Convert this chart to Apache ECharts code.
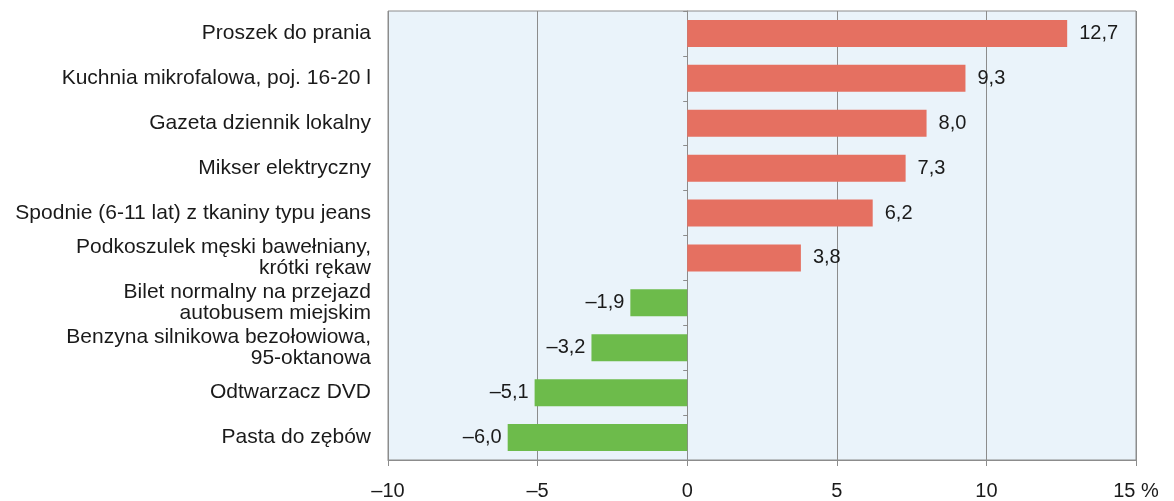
<!DOCTYPE html>
<html>
<head>
<meta charset="utf-8">
<script src="https://cdn.jsdelivr.net/npm/echarts@6/dist/echarts.min.js"></script>
<style>
  html, body { margin: 0; padding: 0; background: #fff; }
  #chart { width: 1174px; height: 501px; }
</style>
</head>
<body>
<div id="chart"></div>
<script>
// kategorie (od góry)
const categories = [
  'Proszek do prania',
  'Kuchnia mikrofalowa, poj. 16-20 l',
  'Gazeta dziennik lokalny',
  'Mikser elektryczny',
  'Spodnie (6-11 lat) z tkaniny typu jeans',
  'Podkoszulek męski bawełniany,\nkrótki rękaw',
  'Bilet normalny na przejazd\nautobusem miejskim',
  'Benzyna silnikowa bezołowiowa,\n95-oktanowa',
  'Odtwarzacz DVD',
  'Pasta do zębów'
];
// zmiana cen w %
const values = [12.7, 9.3, 8.0, 7.3, 6.2, 3.8, -1.9, -3.2, -5.1, -6.0];
const xTicks = [-10, -5, 0, 5, 10, 15];

const RED = '#e57061';
const GREEN = '#6dbb4b';
const GRAY = '#8c8c8c';
const FONT = 'Liberation Sans';

const fmt = v => (v < 0 ? '\u2013' : '') + Math.abs(v).toFixed(1).replace('.', ',');

const barData = values.map(v => ({
  value: v,
  itemStyle: { color: v >= 0 ? RED : GREEN },
  label: { position: v >= 0 ? 'right' : 'left', distance: v >= 0 ? 12 : 6 }
}));

const chart = echarts.init(document.getElementById('chart'));
chart.setOption({
  animation: false,
  textStyle: { fontFamily: FONT },
  grid: {
    left: 388, right: 38, top: 11, bottom: 40,
    show: true, backgroundColor: '#eaf3fa', borderColor: GRAY, borderWidth: 1
  },
  xAxis: {
    type: 'value',
    min: xTicks[0], max: xTicks[xTicks.length - 1], interval: 5,
    axisLine: { show: true, onZero: false, lineStyle: { color: GRAY } },
    axisTick: { show: true, length: 6, lineStyle: { color: GRAY } },
    splitLine: { show: true, lineStyle: { color: GRAY, width: 1 } },
    axisLabel: {
      margin: 21, fontSize: 20, color: '#1a1a1a', fontFamily: FONT,
      formatter: v => {
        const s = (v < 0 ? '\u2013' : '') + Math.abs(v);
        return v === xTicks[xTicks.length - 1] ? s + ' %' : s;
      }
    }
  },
  yAxis: [
    {
      type: 'category', data: categories, inverse: true,
      axisLine: { show: false, onZero: false }, axisTick: { show: false },
      axisLabel: { margin: 17, fontSize: 21, lineHeight: 21, color: '#1a1a1a', fontFamily: FONT }
    },
    {
      // oś przy zerze – tylko kreski podziału
      type: 'category', data: categories, inverse: true, position: 'left',
      axisLine: { show: true, onZero: true, onZeroAxisIndex: 0, lineStyle: { color: GRAY } },
      axisTick: { show: true, length: 4, lineStyle: { color: GRAY } },
      axisLabel: { show: false }
    }
  ],
  series: [{
    type: 'bar',
    yAxisIndex: 0,
    data: barData,
    barWidth: 27,
    label: {
      show: true, fontSize: 20, color: '#1a1a1a', fontFamily: FONT,
      formatter: p => fmt(p.value)
    }
  }]
});
</script>
</body>
</html>
